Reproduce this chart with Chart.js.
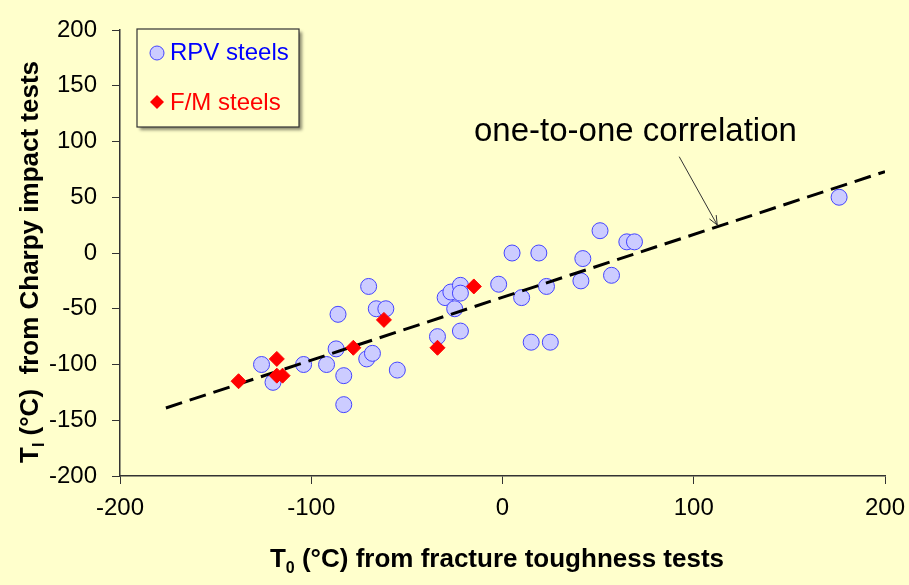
<!DOCTYPE html>
<html>
<head>
<meta charset="utf-8">
<script src="https://cdn.jsdelivr.net/npm/chart.js@4"></script>
<style>
  html, body { margin: 0; padding: 0; background: #ffffcc; }
  canvas { display: block; }
</style>
</head>
<body>
<canvas id="chart" width="909" height="585"></canvas>
<script>
// T0 vs TI scatter: RPV steels, F/M steels and the correlation line.

const rpvX = [-126, -120, -104, -92, -87, -86, -83, -83, -70, -71, -68, -66, -61, -55,
  -34, -30, -27, -25, -22, -22, -22, -2, 5, 10, 15, 19, 23, 25, 41, 42, 51, 57, 65, 69, 176];
const rpvY = [-100, -116, -100, -100, -86, -55, -110, -136, -30, -95, -90, -50, -50, -105,
  -75, -40, -35, -50, -29, -36, -70, -28, 0, -40, -80, 0, -30, -80, -25, -5, 20, -20, 10, 10, 50];

const fmX = [-138, -118, -118, -115, -78, -62, -34, -15];
const fmY = [-115, -95, -110, -110, -85, -60, -85, -30];

const fitX = [-176, 200];
const fitY = [-139, 73];

const xTicks = [-200, -100, 0, 100, 200];
const yTicks = [-200, -150, -100, -50, 0, 50, 100, 150, 200];

// annotation: label centre and arrow (tail, head) in data units
const noteText = "one-to-one correlation";
const notePos = [69.5, 108.5];
const arrowFrom = [92.4, 86.4];
const arrowTo = [112.3, 25.1];

const FONT = "'Liberation Sans', Arial, sans-serif";

function zip(xs, ys) {
  return xs.map((x, i) => ({ x, y: ys[i] }));
}

// draws a run of text pieces, some as subscripts, centred on (0, 0) baseline
function drawRich(ctx, parts, size) {
  const widths = parts.map((p) => {
    ctx.font = `bold ${p.sub ? Math.round(size * 0.62) : size}px ${FONT}`;
    return ctx.measureText(p.text).width;
  });
  let x = -widths.reduce((a, b) => a + b, 0) / 2;
  parts.forEach((p, i) => {
    ctx.font = `bold ${p.sub ? Math.round(size * 0.62) : size}px ${FONT}`;
    ctx.fillText(p.text, x, p.sub ? size * 0.22 : 0);
    x += widths[i];
  });
}

const decorations = {
  id: "decorations",
  afterDraw(chart) {
    const { ctx, scales } = chart;
    const xs = scales.x;
    const ys = scales.y;
    ctx.save();

    // legend box
    ctx.save();
    ctx.shadowColor = "rgba(0,0,0,0.45)";
    ctx.shadowBlur = 3;
    ctx.shadowOffsetX = 3;
    ctx.shadowOffsetY = 3;
    ctx.fillStyle = "#ffffcc";
    ctx.fillRect(137, 29, 162, 98);
    ctx.restore();
    ctx.strokeStyle = "#333333";
    ctx.lineWidth = 1.2;
    ctx.strokeRect(137, 29, 162, 98);

    ctx.beginPath();
    ctx.arc(157, 53, 7, 0, Math.PI * 2);
    ctx.fillStyle = "#ccccff";
    ctx.fill();
    ctx.strokeStyle = "#4444ff";
    ctx.lineWidth = 1;
    ctx.stroke();

    ctx.beginPath();
    ctx.moveTo(150, 102);
    ctx.lineTo(157, 95);
    ctx.lineTo(164, 102);
    ctx.lineTo(157, 109);
    ctx.closePath();
    ctx.fillStyle = "#ff0000";
    ctx.fill();

    ctx.font = `24px ${FONT}`;
    ctx.textBaseline = "middle";
    ctx.textAlign = "left";
    ctx.fillStyle = "#0000ff";
    ctx.fillText("RPV steels", 170, 53);
    ctx.fillStyle = "#ff0000";
    ctx.fillText("F/M steels", 170, 103);

    // correlation label and arrow
    ctx.fillStyle = "#000000";
    ctx.font = `33px ${FONT}`;
    ctx.textAlign = "center";
    ctx.fillText(noteText, xs.getPixelForValue(notePos[0]), ys.getPixelForValue(notePos[1]));

    const ax = xs.getPixelForValue(arrowFrom[0]);
    const ay = ys.getPixelForValue(arrowFrom[1]);
    const bx = xs.getPixelForValue(arrowTo[0]);
    const by = ys.getPixelForValue(arrowTo[1]);
    const ang = Math.atan2(by - ay, bx - ax);
    ctx.strokeStyle = "#333333";
    ctx.lineWidth = 1;
    ctx.beginPath();
    ctx.moveTo(ax, ay);
    ctx.lineTo(bx, by);
    ctx.moveTo(bx - 10 * Math.cos(ang - 0.4), by - 10 * Math.sin(ang - 0.4));
    ctx.lineTo(bx, by);
    ctx.lineTo(bx - 10 * Math.cos(ang + 0.4), by - 10 * Math.sin(ang + 0.4));
    ctx.stroke();

    // axis titles
    ctx.textAlign = "left";
    ctx.textBaseline = "alphabetic";
    ctx.fillStyle = "#000000";
    ctx.save();
    ctx.translate(497, 567);
    drawRich(ctx, [
      { text: "T" }, { text: "0", sub: true },
      { text: " (°C) from fracture toughness tests" },
    ], 26);
    ctx.restore();

    ctx.save();
    ctx.translate(38, 262);
    ctx.rotate(-Math.PI / 2);
    drawRich(ctx, [
      { text: "T" }, { text: "I", sub: true },
      { text: " (°C)  from Charpy impact tests" },
    ], 26);
    ctx.restore();

    ctx.restore();
  },
};

const axisColor = "#333333";
const tickFont = { family: FONT, size: 24 };

new Chart(document.getElementById("chart"), {
  type: "scatter",
  data: {
    datasets: [
      {
        label: "F/M steels",
        data: zip(fmX, fmY),
        pointStyle: "rectRot",
        pointRadius: 7.5,
        backgroundColor: "#ff0000",
        borderColor: "#ff0000",
        borderWidth: 1,
        order: 1,
      },
      {
        label: "one-to-one correlation",
        data: zip(fitX, fitY),
        showLine: true,
        borderColor: "#000000",
        borderWidth: 3,
        borderDash: [17, 8],
        pointRadius: 0,
        order: 2,
      },
      {
        label: "RPV steels",
        data: zip(rpvX, rpvY),
        pointStyle: "circle",
        pointRadius: 8,
        backgroundColor: "#ccccff",
        borderColor: "#4444ff",
        borderWidth: 1,
        order: 3,
      },
    ],
  },
  options: {
    responsive: false,
    animation: false,
    devicePixelRatio: 1,
    layout: { padding: { top: 30, right: 24, left: 0, bottom: 0 } },
    plugins: { legend: { display: false }, tooltip: { enabled: false } },
    scales: {
      x: {
        type: "linear",
        min: xTicks[0],
        max: xTicks[xTicks.length - 1],
        ticks: { stepSize: xTicks[1] - xTicks[0], font: tickFont, color: "#000", padding: 10, maxRotation: 0 },
        grid: { drawOnChartArea: false, tickLength: 8, color: axisColor },
        border: { color: axisColor, width: 1.5 },
        afterFit(scale) {
          scale.height = 109;
          scale.paddingLeft = 0;
          scale.paddingRight = 0;
        },
      },
      y: {
        type: "linear",
        min: yTicks[0],
        max: yTicks[yTicks.length - 1],
        ticks: { stepSize: yTicks[1] - yTicks[0], font: tickFont, color: "#000", padding: 15 },
        grid: { drawOnChartArea: false, tickLength: 8, color: axisColor },
        border: { color: axisColor, width: 1.5 },
        afterFit(scale) {
          scale.width = 120;
          scale.paddingTop = 0;
          scale.paddingBottom = 0;
        },
      },
    },
  },
  plugins: [decorations],
});
</script>
</body>
</html>
